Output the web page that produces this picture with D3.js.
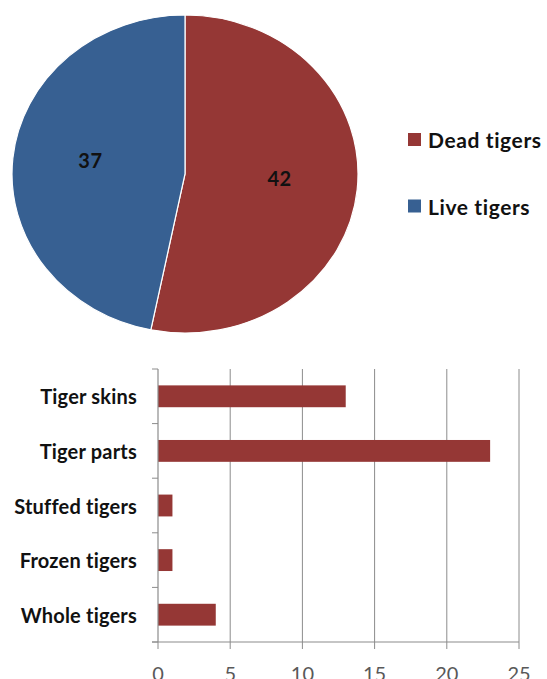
<!DOCTYPE html>
<html><head><meta charset="utf-8">
<script src="https://cdn.jsdelivr.net/npm/d3@7"></script>
<style>html,body{margin:0;padding:0;background:#fff;}svg{display:block;}</style>
</head><body>
<svg id="c" width="547" height="679"></svg>
<script>
const pieLabels = ["Dead tigers", "Live tigers"];
const pieValues = [42, 37];
const pieColors = ["#953735", "#376092"];

const barCategories = ["Tiger skins", "Tiger parts", "Stuffed tigers", "Frozen tigers", "Whole tigers"];
const barValues = [13, 23, 1, 1, 4];
const xTicks = [0, 5, 10, 15, 20, 25];

const svg = d3.select("#c");
const FONT = "Lato, 'Open Sans', sans-serif";

// ---- Pie ----
const cx = 185, cy = 174, rx = 173, ry = 159;
const pieData = d3.pie().sort(null).value(d => d)(pieValues);
const arc = d3.arc().innerRadius(0).outerRadius(rx);
const labelArc = d3.arc().innerRadius(95).outerRadius(95);
const pg = svg.append("g").attr("transform", `translate(${cx},${cy}) scale(1,${ry/rx})`);
pg.selectAll("path").data(pieData).enter().append("path")
  .attr("d", arc)
  .attr("fill", (d, i) => pieColors[i])
  .attr("stroke", "#fff").attr("stroke-width", 1.2)
  .attr("vector-effect", "non-scaling-stroke");
svg.append("g").selectAll("text").data(pieData).enter().append("text")
  .attr("x", d => cx + labelArc.centroid(d)[0])
  .attr("y", d => cy + labelArc.centroid(d)[1] * ry / rx - 5)
  .attr("text-anchor", "middle").attr("dominant-baseline", "central")
  .attr("font-family", FONT).attr("font-weight", "bold").attr("font-size", 20)
  .attr("letter-spacing", 0.5)
  .attr("fill", "#111")
  .text(d => d.value);

// Legend
const legendY = d3.scalePoint().domain(pieLabels).range([139.5, 206]);
const lg = svg.append("g").selectAll("g").data(pieLabels).enter().append("g")
  .attr("transform", d => `translate(408,${legendY(d)})`);
lg.append("rect").attr("x", 0).attr("y", -6.5).attr("width", 13).attr("height", 13)
  .attr("fill", (d, i) => pieColors[i]);
lg.append("text").attr("x", 20).attr("y", 0).attr("dominant-baseline", "central")
  .attr("font-family", FONT).attr("font-weight", "bold").attr("font-size", 21)
  .attr("letter-spacing", 0.6)
  .attr("fill", "#111").text(d => d);

// ---- Bar chart ----
const x = d3.scaleLinear().domain([0, 25]).range([158, 519]);
const y = d3.scaleBand().domain(barCategories).range([369, 642]).paddingInner(0.6).paddingOuter(0.3);
const bg = svg.append("g");

// gridlines
bg.selectAll("line.grid").data(xTicks.slice(1)).enter().append("line")
  .attr("x1", d => x(d)).attr("x2", d => x(d))
  .attr("y1", 369).attr("y2", 642)
  .attr("stroke", "#8c8c8c").attr("stroke-width", 1);

// bars
bg.selectAll("rect").data(barCategories).enter().append("rect")
  .attr("x", x(0)).attr("y", d => y(d))
  .attr("width", (d, i) => x(barValues[i]) - x(0))
  .attr("height", y.bandwidth())
  .attr("fill", "#953735");

// category axis
const step = y.step();
const catTicks = d3.range(barCategories.length + 1).map(k => 369 + k * step);
bg.append("line").attr("x1", x(0)).attr("x2", x(0)).attr("y1", 369).attr("y2", 642)
  .attr("stroke", "#8c8c8c").attr("stroke-width", 1.2);
bg.selectAll("line.ct").data(catTicks).enter().append("line")
  .attr("x1", x(0) - 6).attr("x2", x(0)).attr("y1", d => d).attr("y2", d => d)
  .attr("stroke", "#8c8c8c").attr("stroke-width", 1);
bg.selectAll("text.cat").data(barCategories).enter().append("text")
  .attr("x", 137).attr("y", d => y(d) + y.bandwidth() / 2)
  .attr("text-anchor", "end").attr("dominant-baseline", "central")
  .attr("font-family", FONT).attr("font-weight", "bold").attr("font-size", 20)
  .attr("letter-spacing", 0.2)
  .attr("fill", "#111").text(d => d);

// value axis
bg.append("line").attr("x1", x(0) - 6).attr("x2", x(25)).attr("y1", 642).attr("y2", 642)
  .attr("stroke", "#8c8c8c").attr("stroke-width", 1.2);
bg.selectAll("line.vt").data(xTicks).enter().append("line")
  .attr("x1", d => x(d)).attr("x2", d => x(d)).attr("y1", 642).attr("y2", 649)
  .attr("stroke", "#8c8c8c").attr("stroke-width", 1);
bg.selectAll("text.vt").data(xTicks).enter().append("text")
  .attr("x", d => x(d)).attr("y", 681)
  .attr("text-anchor", "middle")
  .attr("font-family", FONT).attr("font-size", 20)
  .attr("fill", "#595959").text(d => d);
</script>
</body></html>
